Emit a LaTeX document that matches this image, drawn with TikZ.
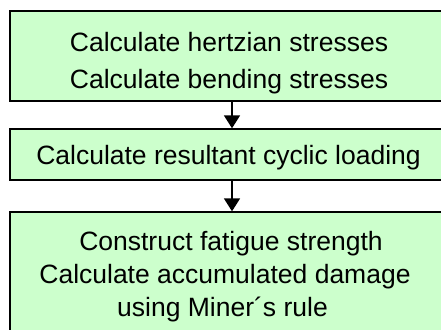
\documentclass[tikz,border=0pt]{standalone}
\usepackage{fontspec}
\setmainfont{Liberation Sans}
\usetikzlibrary{arrows.meta}
\definecolor{boxgreen}{HTML}{CCFFCC}
\begin{document}
\begin{tikzpicture}[x=1pt,y=-1pt,
  stepbox/.style={draw=black,line width=1.4pt,fill=boxgreen,inner sep=0pt,minimum width=440pt},
  txt/.style={anchor=base,inner sep=0pt,font=\fontsize{26.5}{33}\selectfont},
  flow/.style={line width=1.8pt,-{Triangle[width=16pt,length=13pt]}}]
\useasboundingbox (0,0) rectangle (441,329);
\clip (0,0) rectangle (441,329);
\fill[white] (0,0) rectangle (441,329);
\node[stepbox,minimum height=90pt] (b1) at (230,56) {};
\node[stepbox,minimum height=51pt] (b2) at (230,154.5) {};
\node[stepbox,minimum height=128pt] (b3) at (230,276) {};
\node[txt] (t11) at (229,52) {Calculate hertzian stresses};
\node[txt] (t12) at (229,88) {Calculate bending stresses};
\node[txt] (t21) at (228.5,164) {Calculate resultant cyclic loading};
\node[txt] (t31) at (231,250) {Construct fatigue strength};
\node[txt] (t32) at (225,283) {Calculate accumulated damage};
\node[txt] (t33) at (222.5,316) {using Miner´s rule};
\draw[flow] ([xshift=2pt]b1.south) -- ([xshift=2pt]b2.north);
\draw[flow] ([xshift=2pt]b2.south) -- ([xshift=2pt]b3.north);
\end{tikzpicture}
\end{document}
